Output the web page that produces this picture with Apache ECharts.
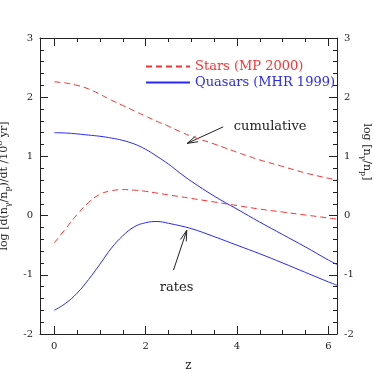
<!DOCTYPE html>
<html>
<head>
<meta charset="utf-8">
<script src="https://cdn.jsdelivr.net/npm/echarts@6/dist/echarts.min.js"></script>
<style>
  html, body { margin: 0; padding: 0; background: #fff; }
  #main { width: 374px; height: 374px; }
</style>
</head>
<body>
<div id="main"></div>
<script>
// redshift grids
const zCum = [0, 0.25, 0.5, 0.75, 1, 1.25, 1.5, 1.75, 2, 2.25, 2.5, 2.75, 3, 3.5, 4, 4.5, 5, 5.5, 6, 6.2];
const zRate = [0, 0.25, 0.5, 0.75, 1, 1.25, 1.5, 1.75, 2, 2.25, 2.5, 3, 3.5, 4, 4.5, 5, 5.5, 6, 6.2];

// log values
const starsCum = [2.26, 2.24, 2.20, 2.14, 2.05, 1.95, 1.86, 1.77, 1.68, 1.59, 1.51, 1.42, 1.34, 1.21, 1.07, 0.94, 0.83, 0.72, 0.63, 0.60];
const quasarsCum = [1.40, 1.395, 1.38, 1.36, 1.34, 1.31, 1.27, 1.21, 1.12, 1.00, 0.87, 0.72, 0.58, 0.33, 0.11, -0.11, -0.32, -0.53, -0.75, -0.83];
const starsRate = [-0.46, -0.22, 0.02, 0.22, 0.36, 0.42, 0.44, 0.43, 0.41, 0.38, 0.35, 0.29, 0.23, 0.17, 0.11, 0.06, 0.01, -0.04, -0.06];
const quasarsRate = [-1.60, -1.48, -1.31, -1.08, -0.82, -0.55, -0.34, -0.19, -0.12, -0.10, -0.13, -0.22, -0.355, -0.50, -0.645, -0.80, -0.96, -1.12, -1.18];

const seriesNames = ['Stars (MP 2000)', 'Quasars (MHR 1999)'];
const xMajor = [0, 2, 4, 6];
const xMinor = [0.5, 1, 1.5, 2.5, 3, 3.5, 4.5, 5, 5.5];

// annotations (data coords)
const cumArrow = [[3.70, 1.50], [2.91, 1.22]];
const rateArrow = [[2.61, -0.92], [2.90, -0.25]];
const cumLabel = [3.93, 1.51];
const rateLabel = [2.31, -1.21];

const FONT = 'DejaVu Serif';
const INK = '#222';
const RED = '#ff3030';
const BLUE = '#2828ff';

function pairs(xs, ys) {
    return xs.map(function (x, i) { return [x, ys[i]]; });
}

const xBase = { type: 'value', min: -0.313, max: 6.19, splitLine: { show: false } };

function xAxisDef(pos, major, labels) {
    return Object.assign({}, xBase, {
        position: pos,
        axisLine: { show: major, onZero: false, lineStyle: { color: INK, width: 1 } },
        axisTick: { show: true, inside: true, length: major ? 8 : 4, customValues: major ? xMajor : xMinor, lineStyle: { color: INK } },
        axisLabel: { show: labels, customValues: xMajor, margin: 7, color: INK, fontFamily: FONT, fontSize: 10 }
    });
}

function yAxisDef(pos) {
    return {
        type: 'value', position: pos, min: -2, max: 3, interval: 1,
        splitLine: { show: false },
        axisLine: { show: true, onZero: false, lineStyle: { color: INK, width: 1 } },
        axisTick: { inside: true, length: 8, lineStyle: { color: INK } },
        minorTick: { show: true, splitNumber: 5, length: 4, lineStyle: { color: INK } },
        axisLabel: { margin: 7, color: INK, fontFamily: FONT, fontSize: 10 }
    };
}

const chart = echarts.init(document.getElementById('main'), null, { renderer: 'canvas' });

const leftY = yAxisDef('left');
leftY.name = 'log [d(n{sub|γ}/n{sub|p})/dt /10{sup|8} yr]';
leftY.nameLocation = 'middle';
leftY.nameRotate = 90;
leftY.nameGap = 18;
leftY.nameTextStyle = {
    color: INK, fontFamily: FONT, fontSize: 11, lineHeight: 16, verticalAlign: 'middle',
    rich: {
        sub: { fontFamily: FONT, fontSize: 8, lineHeight: 8, verticalAlign: 'bottom', color: INK },
        sup: { fontFamily: FONT, fontSize: 8, lineHeight: 8, verticalAlign: 'top', color: INK }
    }
};

const bottomX = xAxisDef('bottom', true, true);
bottomX.name = 'z';
bottomX.nameLocation = 'middle';
bottomX.nameGap = 26;
bottomX.nameTextStyle = { color: INK, fontFamily: FONT, fontSize: 12 };

const option = {
    animation: false,
    backgroundColor: '#fff',
    grid: { left: 40, right: 37, top: 38, bottom: 40, containLabel: false, outerBoundsMode: 'none' },
    legend: {
        orient: 'vertical', left: 145, top: 60, padding: 0,
        itemWidth: 44, itemHeight: 14, itemGap: 3,
        itemStyle: { opacity: 0 },
        textStyle: { fontFamily: FONT, fontSize: 13 },
        data: [
            { name: seriesNames[0], textStyle: { color: RED } },
            { name: seriesNames[1], textStyle: { color: BLUE } }
        ]
    },
    xAxis: [
        bottomX,
        xAxisDef('bottom', false, false),
        xAxisDef('top', true, false),
        xAxisDef('top', false, false)
    ],
    yAxis: [leftY, yAxisDef('right')],
    series: [
        { name: seriesNames[0], type: 'line', data: pairs(zCum, starsCum), smooth: 0.4, symbol: 'none',
          lineStyle: { color: RED, width: 1, type: [6, 4] }, itemStyle: { color: RED } },
        { name: seriesNames[1], type: 'line', data: pairs(zCum, quasarsCum), smooth: 0.4, symbol: 'none',
          lineStyle: { color: BLUE, width: 1 }, itemStyle: { color: BLUE } },
        { name: seriesNames[0], type: 'line', data: pairs(zRate, starsRate), smooth: 0.4, symbol: 'none',
          lineStyle: { color: RED, width: 1, type: [6, 4] }, itemStyle: { color: RED } },
        { name: seriesNames[1], type: 'line', data: pairs(zRate, quasarsRate), smooth: 0.4, symbol: 'none',
          lineStyle: { color: BLUE, width: 1 }, itemStyle: { color: BLUE } }
    ]
};
chart.setOption(option);

// arrows and labels, placed through the axes
function toPx(p) {
    return chart.convertToPixel({ xAxisIndex: 0, yAxisIndex: 0 }, p);
}

function arrow(seg) {
    const a = toPx(seg[0]);
    const b = toPx(seg[1]);
    const ang = Math.atan2(a[1] - b[1], a[0] - b[0]);
    const len = 11;
    const spread = 0.28;
    const h1 = [b[0] + len * Math.cos(ang + spread), b[1] + len * Math.sin(ang + spread)];
    const h2 = [b[0] + len * Math.cos(ang - spread), b[1] + len * Math.sin(ang - spread)];
    const style = { stroke: INK, lineWidth: 1, fill: null };
    return [
        { type: 'polyline', shape: { points: [a, b] }, style: style },
        { type: 'polyline', shape: { points: [h1, b, h2] }, style: style }
    ];
}

const cl = toPx(cumLabel);
const rl = toPx(rateLabel);
const graphics = arrow(cumArrow).concat(arrow(rateArrow)).concat([
    { type: 'text', x: cl[0], y: cl[1], style: { text: 'cumulative', fill: INK, font: '13px "DejaVu Serif"', textVerticalAlign: 'middle' } },
    { type: 'text', x: rl[0], y: rl[1], style: { text: 'rates', fill: INK, font: '13px "DejaVu Serif"', textVerticalAlign: 'middle' } },
    { type: 'text', x: 367, y: 152, rotation: -Math.PI / 2,
      style: { rich: {
          sub: { fontFamily: FONT, fontSize: 8, lineHeight: 8, verticalAlign: 'bottom', fill: INK },
          n: { fontFamily: FONT, fontSize: 11, lineHeight: 16, fill: INK }
      }, text: '{n|log [n}{sub|γ}{n|/n}{sub|p}{n|]}', align: 'center', verticalAlign: 'middle' } }
]);
chart.setOption({ graphic: graphics });
</script>
</body>
</html>
